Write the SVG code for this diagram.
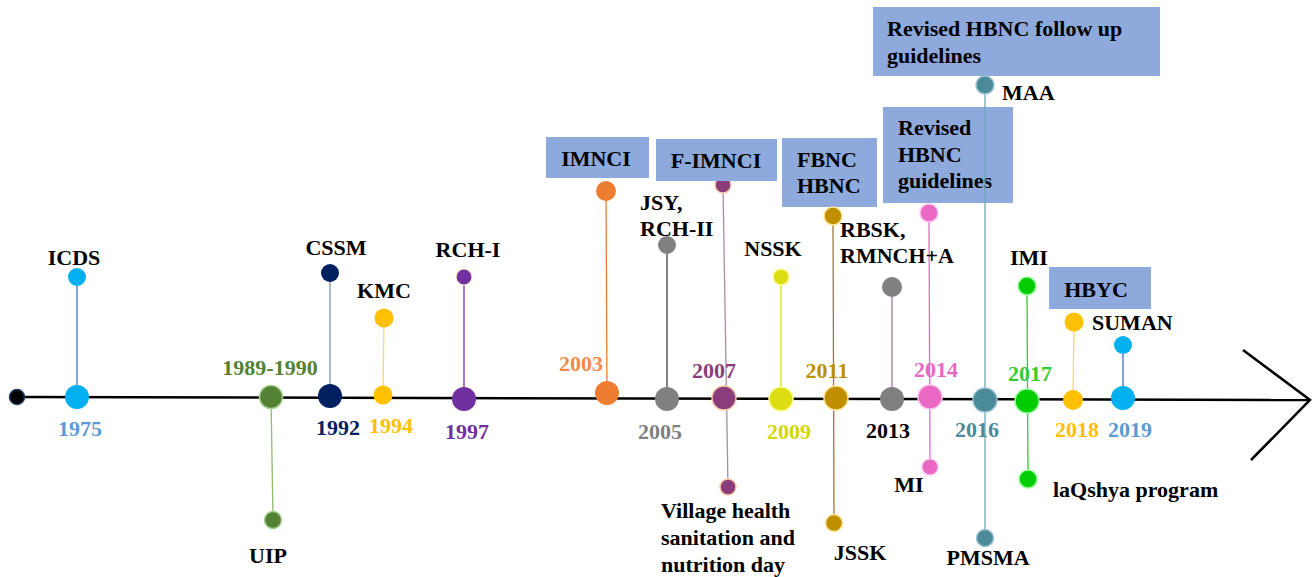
<svg xmlns="http://www.w3.org/2000/svg" width="1312" height="577" viewBox="0 0 1312 577">
<style>
text{font-family:"Liberation Serif","Times New Roman",serif;font-weight:bold;font-size:22px;fill:#000}
.m{text-anchor:middle}
.box{fill:#8EA9DB}
.stem{stroke-width:1.3;fill:none}
</style>
<rect width="1312" height="577" fill="#fff"/>
<g id="box-revised-hbnc-guidelines">
<rect class="box" x="883" y="107" width="130" height="96"/>
<text x="898" y="135">Revised</text>
<text x="898" y="162">HBNC</text>
<text x="898" y="188">guidelines</text>
</g>
<g id="box-revised-followup">
<rect class="box" x="873" y="7" width="287" height="69"/>
<text x="887" y="36">Revised HBNC follow up</text>
<text x="887" y="63">guidelines</text>
</g>
<g id="box-imnci">
<rect class="box" x="546" y="137" width="103" height="41"/>
<text class="m" x="596" y="166">IMNCI</text>
</g>
<g id="box-fbnc">
<rect class="box" x="782" y="138" width="95" height="69"/>
<text x="797" y="167">FBNC</text>
<text x="797" y="193">HBNC</text>
</g>
<g id="box-hbyc">
<rect class="box" x="1049" y="267" width="102" height="42"/>
<text class="m" x="1096" y="297">HBYC</text>
</g>
<g id="connectors">
<line x1="17" y1="397" x2="1309" y2="400" stroke="#000" stroke-width="2.5"/>
<polyline points="1243,350 1310,400 1251,460" fill="none" stroke="#000" stroke-width="2.5"/>
<line class="stem" x1="77" y1="277" x2="77" y2="397" stroke="#4472C4"/>
<line class="stem" x1="271" y1="397" x2="273" y2="520" stroke="#8FBC6F"/>
<line class="stem" x1="330" y1="273" x2="330" y2="396" stroke="#8497B0"/>
<line class="stem" x1="384" y1="318" x2="383" y2="395" stroke="#FFD966"/>
<line class="stem" x1="464" y1="277" x2="464" y2="399" stroke="#7030A0"/>
<line class="stem" x1="606" y1="191" x2="607" y2="393" stroke="#ED7D31"/>
<line class="stem" x1="667" y1="245" x2="667" y2="399" stroke="#404040"/>
<line class="stem" x1="723" y1="185" x2="728" y2="487" stroke="#B08AA6"/>
<line class="stem" x1="781" y1="277" x2="781" y2="399" stroke="#DDDD00"/>
<line class="stem" x1="833" y1="216" x2="834" y2="523" stroke="#9E7A3A"/>
<line class="stem" x1="892" y1="287" x2="892" y2="399" stroke="#9E7B9B"/>
<line class="stem" x1="929" y1="213" x2="930" y2="467" stroke="#E868C4"/>
<line class="stem" x1="985" y1="85" x2="985" y2="538" stroke="#6FA8B8"/>
<line class="stem" x1="1027" y1="286" x2="1028" y2="479" stroke="#33CC33"/>
<line class="stem" x1="1074" y1="322" x2="1073" y2="400" stroke="#FFD966"/>
<line class="stem" x1="1123" y1="345" x2="1123" y2="399" stroke="#4472C4"/>
</g>
<g id="start">
<circle cx="17" cy="397" r="7.5" fill="#000" stroke="#1F3864" stroke-width="1.5"/>
</g>
<g id="y1975">
<circle cx="77" cy="397" r="12" fill="#00B0F0"/>
<circle cx="77" cy="277" r="9" fill="#00B0F0"/>
<text class="m" x="74" y="265">ICDS</text>
<text class="m" x="80" y="436" style="fill:#5B9BD5">1975</text>
</g>
<g id="y1989">
<circle cx="271" cy="397" r="11.5" fill="#548235" stroke="#A9D18E" stroke-width="1.5"/>
<circle cx="273" cy="520" r="8.5" fill="#548235" stroke="#A9D18E" stroke-width="1.5"/>
<text class="m" x="270" y="375" style="fill:#548235">1989-1990</text>
<text class="m" x="268" y="563">UIP</text>
</g>
<g id="y1992">
<circle cx="330" cy="396" r="12" fill="#002060"/>
<circle cx="330" cy="273" r="9" fill="#002060"/>
<text class="m" x="336" y="255">CSSM</text>
<text class="m" x="338" y="435" style="fill:#002060">1992</text>
</g>
<g id="y1994">
<circle cx="383" cy="395" r="9.5" fill="#FFC000"/>
<circle cx="384" cy="318" r="9.5" fill="#FFC000"/>
<text class="m" x="384" y="298">KMC</text>
<text class="m" x="391" y="433" style="fill:#FFC000">1994</text>
</g>
<g id="y1997">
<circle cx="464" cy="399" r="12" fill="#7030A0"/>
<circle cx="464" cy="277" r="8" fill="#7030A0" stroke="#FFF2CC" stroke-width="1.2"/>
<text class="m" x="468" y="257">RCH-I</text>
<text class="m" x="467" y="439" style="fill:#7030A0">1997</text>
</g>
<g id="y2003">
<circle cx="607" cy="393" r="12" fill="#ED7D31"/>
<circle cx="606" cy="191" r="10" fill="#ED7D31"/>
<text class="m" x="581" y="371" style="fill:#F08A4B">2003</text>
</g>
<g id="y2005">
<circle cx="667" cy="399" r="12" fill="#808080"/>
<circle cx="667" cy="245" r="9" fill="#808080"/>
<text x="640" y="210">JSY,</text>
<text x="640" y="236">RCH-II</text>
<text class="m" x="660" y="439" style="fill:#808080">2005</text>
</g>
<g id="y2007">
<circle cx="724" cy="398" r="12" fill="#8B3D7B" stroke="#F8CBAD" stroke-width="1.5"/>
<circle cx="723" cy="185" r="8" fill="#8B3D7B" stroke="#F8CBAD" stroke-width="1.5"/>
<circle cx="728" cy="487" r="8" fill="#8B3D7B" stroke="#F8CBAD" stroke-width="1.5"/>
<text class="m" x="714" y="378" style="fill:#8B3D7B">2007</text>
<text x="661" y="518">Village health</text>
<text x="661" y="545">sanitation and</text>
<text x="661" y="572">nutrition day</text>
</g>
<g id="box-f-imnci">
<rect class="box" x="656" y="139" width="121" height="42"/>
<text class="m" x="716" y="168">F-IMNCI</text>
</g>
<g id="y2009">
<circle cx="781" cy="399" r="12" fill="#DDDD14" stroke="#FFFF99" stroke-width="1.5"/>
<circle cx="781" cy="277" r="8" fill="#DDDD14" stroke="#FFFF99" stroke-width="1.5"/>
<text class="m" x="773" y="256">NSSK</text>
<text class="m" x="789" y="439" style="fill:#D6D600">2009</text>
</g>
<g id="y2011">
<circle cx="836" cy="398" r="12" fill="#BF8F00" stroke="#FFE699" stroke-width="1.5"/>
<circle cx="833" cy="216" r="9" fill="#BF8F00" stroke="#FFE699" stroke-width="1.5"/>
<circle cx="834" cy="523" r="8.5" fill="#BF8F00" stroke="#FFE699" stroke-width="1.5"/>
<text x="840" y="237">RBSK,</text>
<text x="840" y="263">RMNCH+A</text>
<text class="m" x="827" y="378" style="fill:#BF8F00">2011</text>
<text class="m" x="860" y="560">JSSK</text>
</g>
<g id="y2013">
<circle cx="892" cy="399" r="12" fill="#808080"/>
<circle cx="892" cy="287" r="10" fill="#808080"/>
<text class="m" x="888" y="438">2013</text>
</g>
<g id="y2014">
<circle cx="930" cy="397" r="12" fill="#E868C4" stroke="#F9C4EA" stroke-width="1.5"/>
<circle cx="929" cy="213" r="9" fill="#E868C4" stroke="#F9C4EA" stroke-width="1.5"/>
<circle cx="930" cy="467" r="8" fill="#E868C4" stroke="#F9C4EA" stroke-width="1.5"/>
<text class="m" x="936" y="377" style="fill:#E868C4">2014</text>
<text class="m" x="909" y="492">MI</text>
</g>
<g id="y2016">
<circle cx="985" cy="400" r="12" fill="#4A8A99" stroke="#9DC3D0" stroke-width="1.5"/>
<circle cx="985" cy="85" r="9" fill="#4A8A99" stroke="#9DC3D0" stroke-width="1.5"/>
<circle cx="985" cy="538" r="8.5" fill="#4A8A99" stroke="#9DC3D0" stroke-width="1.5"/>
<text x="1002" y="100">MAA</text>
<text class="m" x="977" y="437" style="fill:#4A8A99">2016</text>
<text class="m" x="988" y="565">PMSMA</text>
</g>
<g id="y2017">
<circle cx="1027" cy="401" r="12" fill="#00CC00" stroke="#99FF99" stroke-width="1.5"/>
<circle cx="1027" cy="286" r="9" fill="#00CC00" stroke="#99FF99" stroke-width="1.5"/>
<circle cx="1028" cy="479" r="9" fill="#00CC00" stroke="#99FF99" stroke-width="1.5"/>
<text x="1010" y="265">IMI</text>
<text class="m" x="1030" y="381" style="fill:#33CC33">2017</text>
<text x="1053" y="497">laQshya program</text>
</g>
<g id="y2018">
<circle cx="1073" cy="400" r="10" fill="#FFC000"/>
<circle cx="1074" cy="322" r="9.5" fill="#FFC000"/>
<text x="1092" y="330">SUMAN</text>
<text class="m" x="1077" y="437" style="fill:#FFC000">2018</text>
</g>
<g id="y2019">
<circle cx="1123" cy="398" r="12" fill="#00B0F0"/>
<circle cx="1123" cy="345" r="9" fill="#00B0F0"/>
<text class="m" x="1130" y="437" style="fill:#5B9BD5">2019</text>
</g>
</svg>
